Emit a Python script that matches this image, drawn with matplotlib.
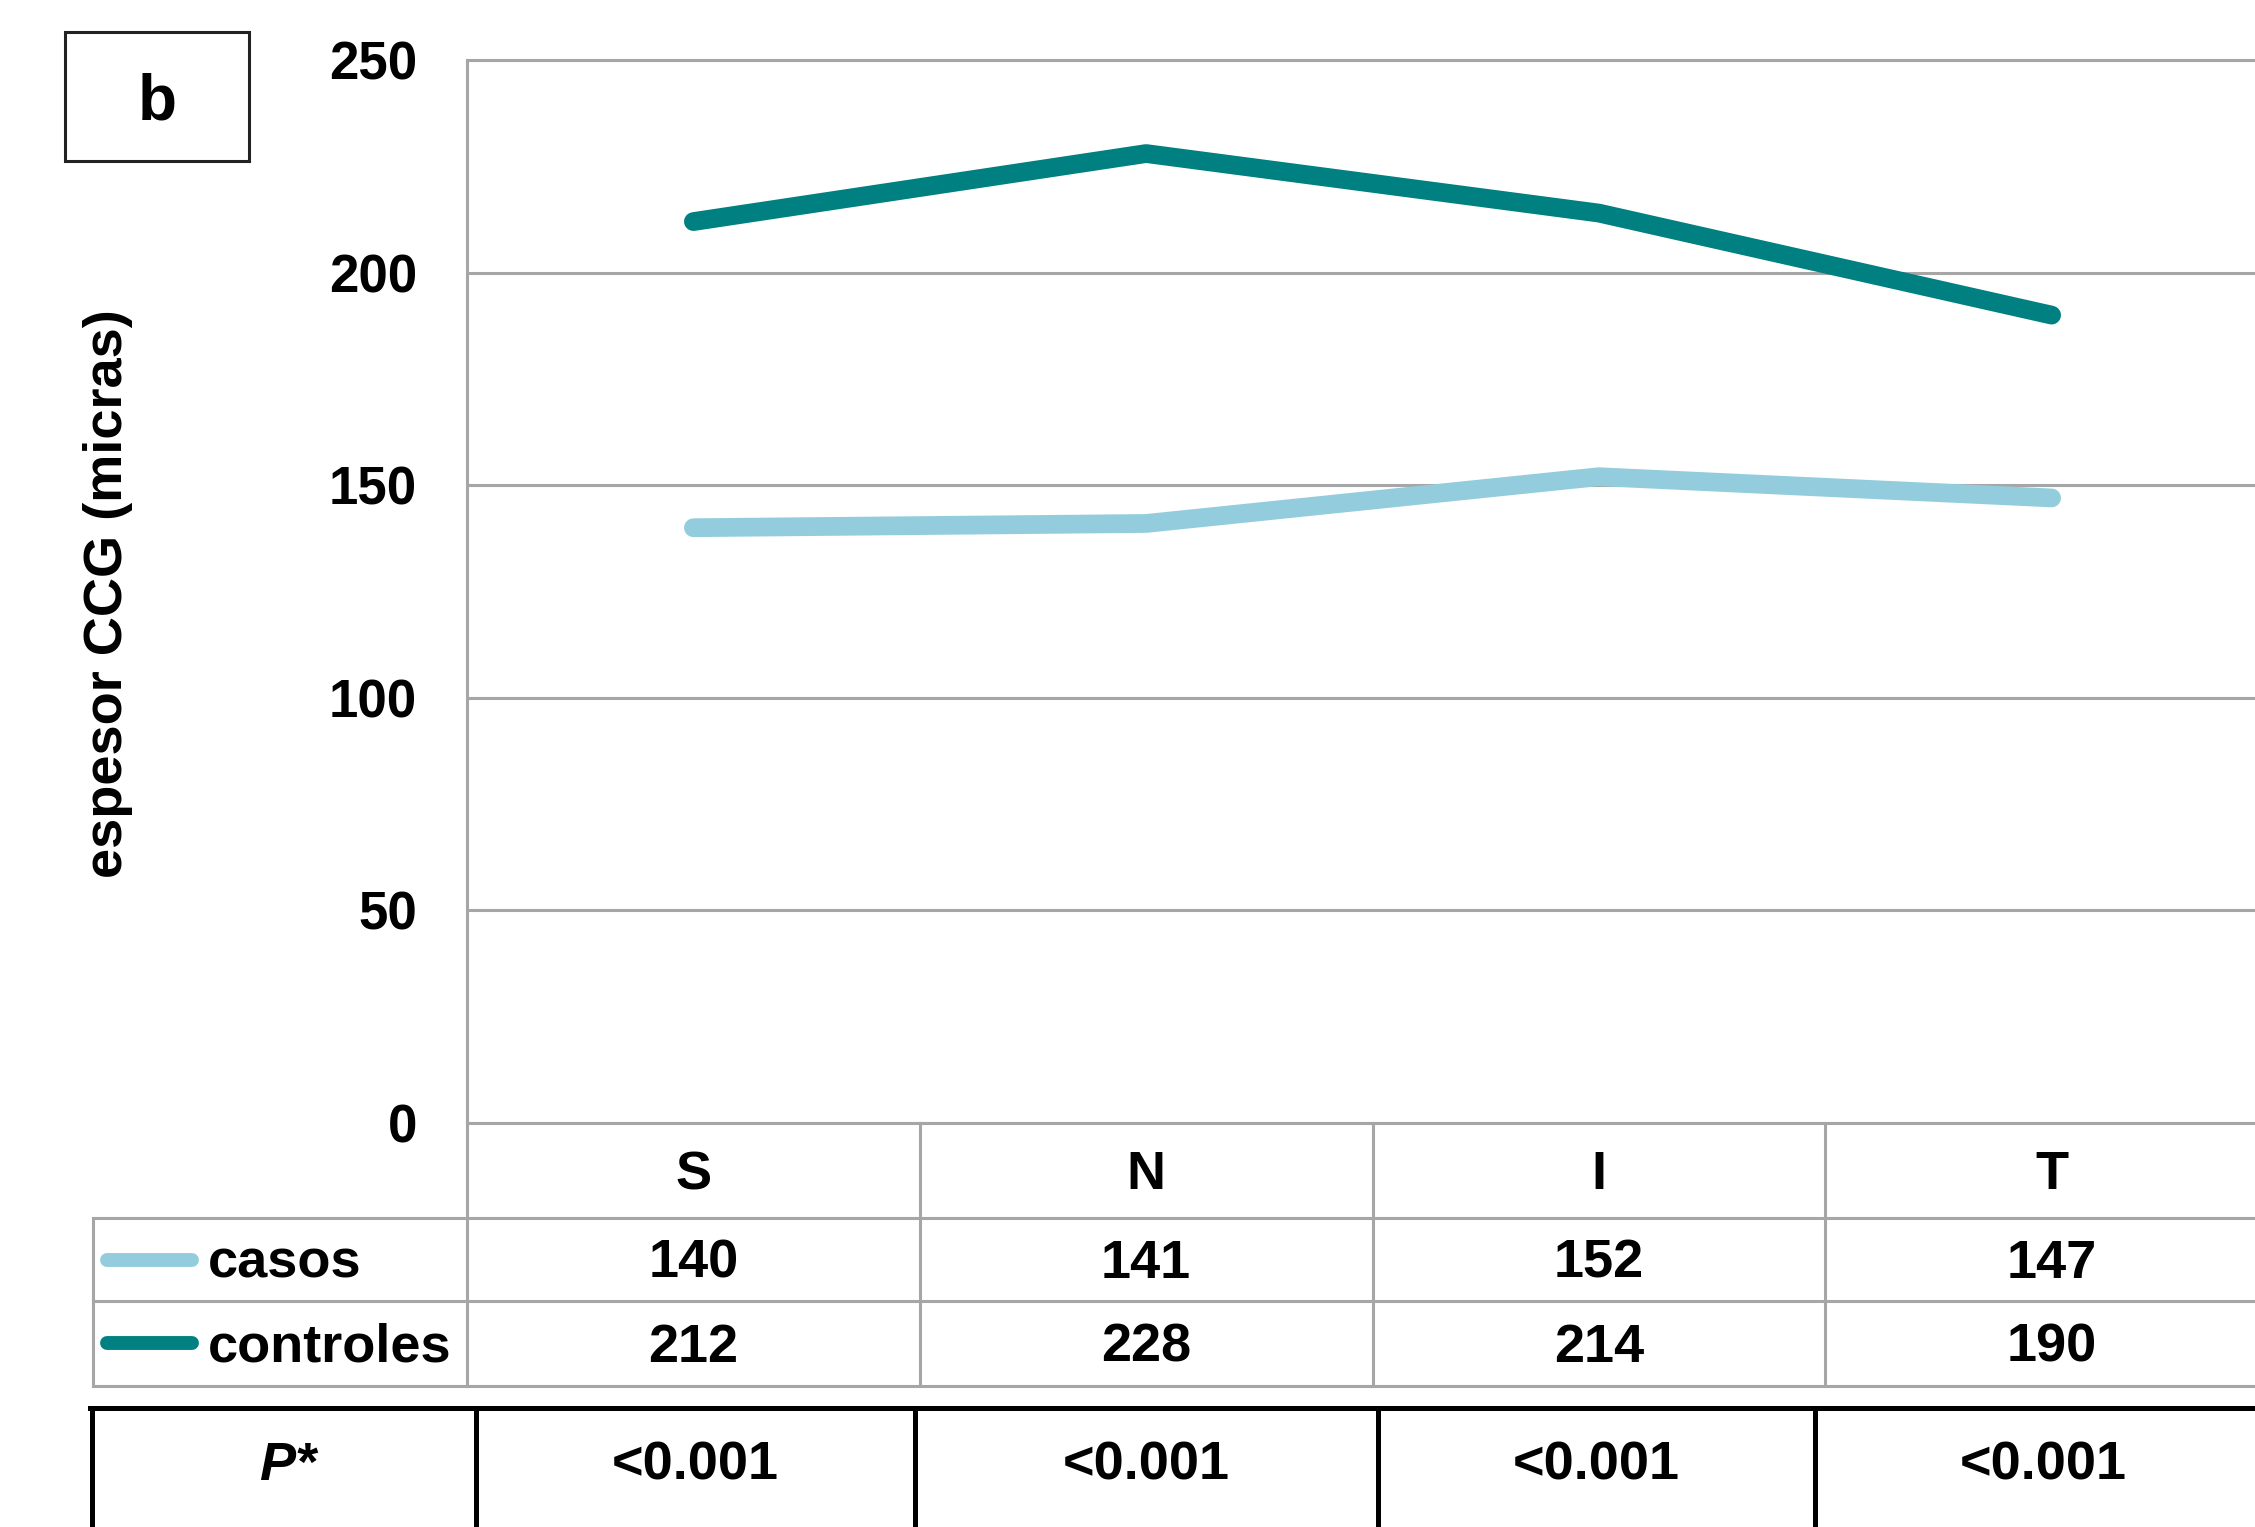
import matplotlib
matplotlib.use("Agg")
import matplotlib.pyplot as plt
from matplotlib.transforms import blended_transform_factory
from matplotlib.patches import Rectangle

# ---- data ----
regions = ["S", "N", "I", "T"]
series_names = ["casos", "controles"]
casos = [140, 141, 152, 147]
controles = [212, 228, 214, 190]
p_values = ["<0.001", "<0.001", "<0.001", "<0.001"]
y_ticks = [0, 50, 100, 150, 200, 250]

colors = {"casos": "#93CDDD", "controles": "#008080"}
grid_gray = "#A6A6A6"

plt.rcParams["font.family"] = ["Liberation Sans", "DejaVu Sans"]

W, H = 2255, 1527
fig = plt.figure(figsize=(W / 100, H / 100), dpi=100)
fig.patch.set_facecolor("white")


def fx(px):
    return px / W


def fy(py):
    return 1 - py / H


# plot area (extends slightly past the right edge of the figure)
left_px, right_px, top_px, bot_px = 467, 2278, 60, 1123
ax = fig.add_axes([fx(left_px), fy(bot_px), fx(right_px - left_px), (bot_px - top_px) / H])
ax.set_xlim(-0.5, len(regions) - 0.5)
ax.set_ylim(0, 250)
ax.set_yticks(y_ticks)
ax.set_xticks([])
ax.yaxis.grid(True, color=grid_gray, linewidth=2.2)
ax.set_axisbelow(True)
ax.spines["right"].set_visible(False)
for side in ["left", "top", "bottom"]:
    ax.spines[side].set_color(grid_gray)
    ax.spines[side].set_linewidth(2.2)
ax.tick_params(axis="y", length=0, pad=36, labelsize=38)
for lab in ax.get_yticklabels():
    lab.set_fontweight("bold")

x = list(range(len(regions)))
ax.plot(x, casos, color=colors["casos"], lw=13.5, solid_capstyle="round",
        solid_joinstyle="round", zorder=3)
ax.plot(x, controles, color=colors["controles"], lw=13.5, solid_capstyle="round",
        solid_joinstyle="round", zorder=4)

# y-axis title
fig.text(fx(108), fy(594), "espesor CCG (micras)", rotation=90, ha="center",
         va="center", fontsize=39, fontweight="bold")

# panel letter box
fig.patches.append(Rectangle((fx(65), fy(161)), fx(249 - 65), (161 - 32) / H,
                             transform=fig.transFigure, fill=False,
                             edgecolor="#222222", lw=2.2))
fig.text(fx(157), fy(120), "b", ha="center", va="baseline", fontsize=46,
         fontweight="bold")

# ---- data table under the plot ----
tr = blended_transform_factory(ax.transData, fig.transFigure)
line_kw = dict(color=grid_gray, lw=2.2, clip_on=False)
row_lines = [1218, 1301, 1386]
for yy in row_lines:
    fig.add_artist(plt.Line2D([fx(93), fx(2300)], [fy(yy), fy(yy)],
                              transform=fig.transFigure, **line_kw))
fig.add_artist(plt.Line2D([fx(93), fx(93)], [fy(1218), fy(1386)],
                          transform=fig.transFigure, **line_kw))
fig.add_artist(plt.Line2D([fx(left_px), fx(left_px)], [fy(1123), fy(1386)],
                          transform=fig.transFigure, **line_kw))
for i in range(1, len(regions)):
    ax.plot([i - 0.5, i - 0.5], [fy(1123), fy(1386)], transform=tr, **line_kw)

txt_kw = dict(ha="center", va="baseline", fontsize=39, fontweight="bold",
              transform=tr)
for i, reg in enumerate(regions):
    ax.text(i, fy(1189), reg, **txt_kw)
    ax.text(i, fy(1278), str(casos[i]), **txt_kw)
    ax.text(i, fy(1362), str(controles[i]), **txt_kw)

# legend keys in the first column
for name, base, mid in [("casos", 1278, 1260), ("controles", 1362, 1343)]:
    fig.add_artist(plt.Line2D([fx(107), fx(192)], [fy(mid), fy(mid)],
                              transform=fig.transFigure, color=colors[name],
                              lw=10, solid_capstyle="round"))
    fig.text(fx(208), fy(base), name, ha="left", va="baseline", fontsize=39,
             fontweight="bold")

# ---- P-value table ----
p_cols = [92, 476, 915, 1378, 1815, 2270]
black_kw = dict(color="black", lw=3.6, clip_on=False, transform=fig.transFigure)
fig.add_artist(plt.Line2D([fx(92) - 0.001, fx(2300)], [fy(1408), fy(1408)], **black_kw))
for c in p_cols[:-1]:
    fig.add_artist(plt.Line2D([fx(c), fx(c)], [fy(1408), fy(1540)], **black_kw))
fig.text(fx(288), fy(1480), "P*", ha="center", va="baseline", fontsize=39,
         fontweight="bold", fontstyle="italic")
for i, pv in enumerate(p_values):
    cx = (p_cols[i + 1] + p_cols[i + 2]) / 2 if i < 3 else 2043
    fig.text(fx(cx), fy(1480), pv, ha="center", va="baseline", fontsize=39,
             fontweight="bold")

fig.savefig("out.png", dpi=100, facecolor="white")
